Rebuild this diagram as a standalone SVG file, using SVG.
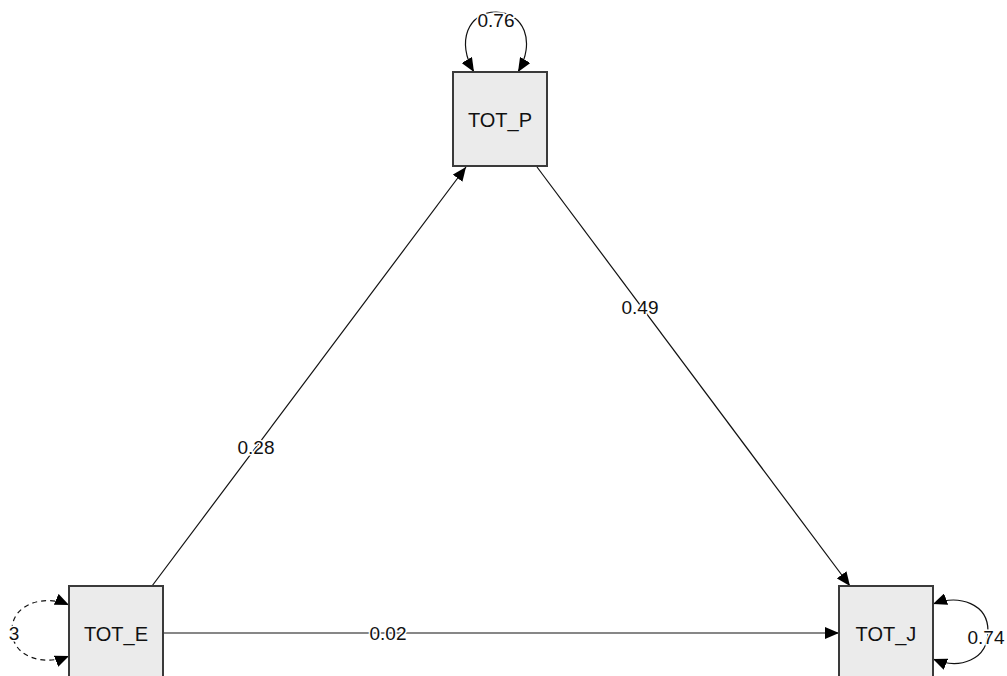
<svg xmlns="http://www.w3.org/2000/svg" width="1007" height="676" viewBox="0 0 1007 676">
<style>
.box{fill:#ebebeb;stroke:#3a3a3a;stroke-width:2}
.nt{font-family:"Liberation Sans",Arial,sans-serif;font-size:20px;fill:#111;text-anchor:middle}
.lb{font-family:"Liberation Sans",Arial,sans-serif;font-size:19px;fill:#111;text-anchor:middle;stroke:#fff;stroke-width:3;paint-order:stroke}
.ln{fill:none;stroke:#111;stroke-width:1.2}
.dash{stroke-dasharray:5,4}
</style>
<defs>
<marker id="ah" viewBox="0 0 14 12" refX="14" refY="6" markerWidth="14" markerHeight="12" markerUnits="userSpaceOnUse" orient="auto">
<path d="M0,0 L14,6 L0,12 z" fill="#000"/>
</marker>
</defs>
<rect width="1007" height="676" fill="#fff"/>
<g id="connectors">
<path class="ln" d="M152,586 L466,167" marker-end="url(#ah)"/>
<path class="ln" d="M537,167 L850,586" marker-end="url(#ah)"/>
<path class="ln" d="M163,633 L839,633" marker-end="url(#ah)"/>
<path class="ln" d="M496,12 C468,12 456,42 474,72" marker-end="url(#ah)"/>
<path class="ln" d="M496,12 C524,12 536,42 518,72" marker-end="url(#ah)"/>
<path class="ln dash" d="M12,630 C12,604 44,594 69,605" marker-end="url(#ah)"/>
<path class="ln dash" d="M12,630 C12,658 44,666 69,656" marker-end="url(#ah)"/>
<path class="ln" d="M988,631 C988,604 960,594 933,604" marker-end="url(#ah)"/>
<path class="ln" d="M988,631 C988,660 960,670 933,659" marker-end="url(#ah)"/>
<text class="lb" x="496" y="27">0.76</text>
<text class="lb" x="256" y="454">0.28</text>
<text class="lb" x="640" y="314">0.49</text>
<text class="lb" x="388" y="640">0.02</text>
<text class="lb" x="14" y="640">3</text>
<text class="lb" x="986" y="644">0.74</text>
</g>
<g id="TOT_P">
<rect class="box" x="453" y="72" width="94" height="94"/>
<text class="nt" x="500" y="127">TOT_P</text>
</g>
<g id="TOT_E">
<rect class="box" x="69" y="586" width="94" height="94"/>
<text class="nt" x="116" y="641">TOT_E</text>
</g>
<g id="TOT_J">
<rect class="box" x="839" y="586" width="94" height="94"/>
<text class="nt" x="886" y="641">TOT_J</text>
</g>
</svg>
